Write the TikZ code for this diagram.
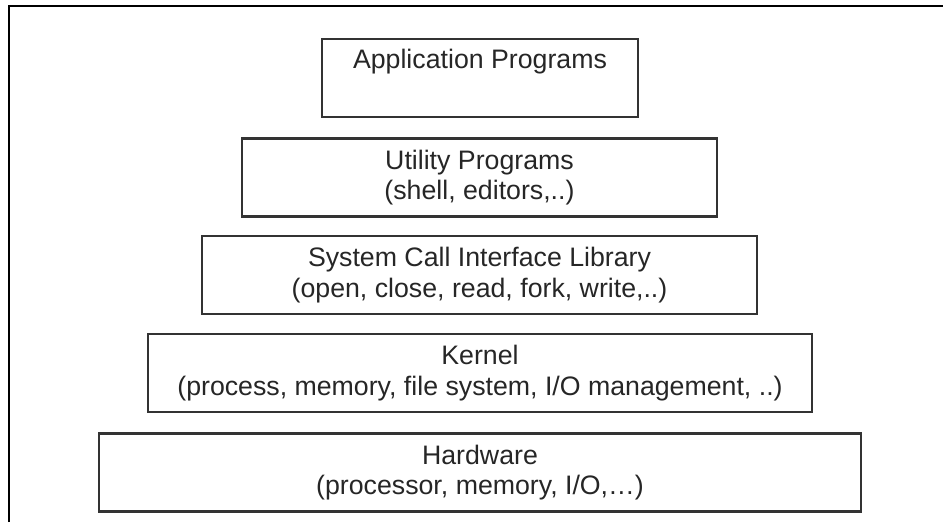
\documentclass[tikz,border=0pt]{standalone}
\usepackage{fontspec}
\setmainfont{Liberation Sans}
\usetikzlibrary{positioning}

\begin{document}
\begin{tikzpicture}[x=0.025cm,y=-0.025cm,
  layer/.style={draw=black!80,line width=1.6pt,align=center,text=black!85,
    font=\fontsize{19}{21.5}\selectfont,inner sep=0pt,minimum height=1.95cm},
  frame/.style={line width=1.4pt}]
\useasboundingbox (0,0) rectangle (943,522);
\draw[frame] (9,522) -- (9,6) -- (943,6);
\node[layer,minimum width=7.9cm] (app) at (480,78) {Application Programs\\ \strut};
\node[layer,minimum width=11.875cm] (util) at (479.5,177.5) {Utility Programs\\(shell, editors,..)};
\node[layer,minimum width=13.875cm] (syscall) at (479.5,275) {System Call Interface Library\\(open, close, read, fork, write,..)};
\node[layer,minimum width=16.6cm] (kernel) at (480,373) {Kernel\\(process, memory, file system, I/O management, ..)};
\node[layer,minimum width=19.05cm] (hw) at (480,472.5) {Hardware\\(processor, memory, I/O,\dots)};
\end{tikzpicture}
\end{document}
